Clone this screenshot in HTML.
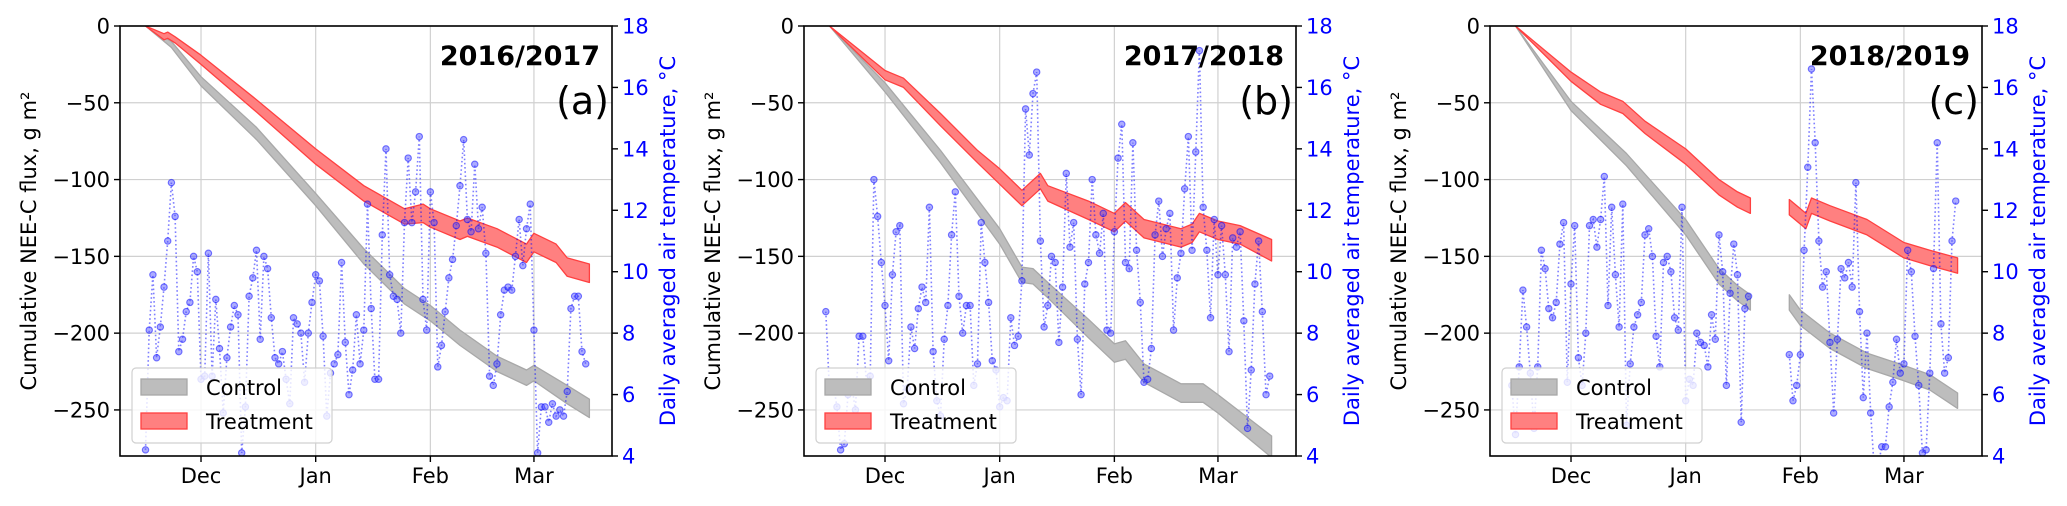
<!DOCTYPE html>
<html><head><meta charset="utf-8">
<style>
html,body{margin:0;padding:0;background:#fff;}
svg{display:block;font-family:"DejaVu Sans","Liberation Sans",sans-serif;}
</style></head>
<body>
<svg id="fig" width="2067" height="506" viewBox="0 0 2067 506" xmlns="http://www.w3.org/2000/svg"></svg>
<script>
// ---- shared axis data ----
const monthLabels = ['Dec','Jan','Feb','Mar'];
const monthDays = [0,31,62,90];
const fluxTicks = [0,-50,-100,-150,-200,-250];
const tempTicks = [4,6,8,10,12,14,16,18];
const seasonTitles = ['2016/2017','2017/2018','2018/2019'];
const panelTags = ['(a)','(b)','(c)'];

// ---- panel (a) 2016/2017 ----
const tempStartA = -15;
const tempA = [4.2,8.1,9.9,7.2,8.2,9.5,11.0,12.9,11.8,7.4,7.8,8.7,9.0,10.5,10.0,6.5,6.6,10.6,6.6,9.1,7.5,5.4,7.2,8.2,8.9,8.6,4.1,5.6,9.2,9.8,10.7,7.8,10.5,10.1,8.5,7.2,7.0,7.4,6.5,5.7,8.5,8.3,8.0,6.4,8.0,9.0,9.9,9.7,7.9,5.3,6.7,7.0,7.3,10.3,7.7,6.0,6.8,8.6,7.0,8.1,12.2,
 8.8,6.5,6.5,11.2,14.0,9.9,9.2,9.1,8.0,11.6,13.7,11.6,12.6,14.4,9.1,8.1,12.6,11.6,6.9,7.6,8.7,9.8,10.4,11.5,12.8,14.3,11.7,11.3,13.5,11.4,12.1,10.6,6.6,6.3,7.0,8.6,9.4,9.5,9.4,10.5,11.7,10.2,11.4,12.2,8.1,4.1,5.6,5.6,5.1,5.7,5.3,5.5,5.3,6.1,8.8,9.2,9.2,7.4,7.0];
const ctrlDaysA = [-15,-8,0,15,31,44,55,62,70,80,88,90,99,105];
const ctrlValsA = [0,-12,-36,-70,-113,-150,-176,-187,-203,-220,-229,-226,-240,-249];
const ctrlHwA   = [0,2,3,4,4,5,5,5,5,5,5,5,6,6];
const trtDaysA = [-15,-10,-9,-7,0,15,31,44,55,60,62,70,72,80,88,90,96,99,105];
const trtValsA = [0,-7,-6,-9,-22,-52,-85,-109,-124,-122,-125,-133,-131,-138,-148,-141,-148,-157,-161];
const trtHwA   = [0,2,2,2,3,4,5,5,5,6,6,6,6,6,6,6,6,6,6];

// ---- panel (b) 2017/2018 ----
const tempStartB = -16;
const tempB = [8.7,6.1,6.4,5.6,4.2,4.4,6.0,6.3,5.5,7.9,7.9,6.4,6.6,13.0,11.8,10.3,8.9,7.1,9.9,11.3,11.5,
 5.7,6.2,8.2,7.5,8.8,9.5,9.0,12.1,7.4,5.8,5.3,7.8,8.9,11.2,12.6,9.2,8.0,8.9,8.9,6.3,7.0,11.6,10.3,9.0,7.1,6.8,5.6,5.9,5.8,8.5,7.6,7.9,9.7,15.3,13.8,15.8,16.5,11.0,8.2,8.9,10.5,
 10.3,7.7,9.5,13.2,10.8,11.6,7.8,6.0,9.6,10.3,13.0,11.2,10.6,11.9,8.1,8.0,11.3,13.7,14.8,10.3,10.1,14.2,10.7,9.0,6.4,6.5,7.5,11.2,12.3,10.5,11.4,11.9,8.1,9.8,10.6,12.7,14.4,10.7,13.9,17.2,12.1,10.7,8.5,11.7,9.9,11.5,9.9,7.4,11.1,10.8,11.3,8.4,4.9,6.8,9.6,11.0,8.7,6.0,6.6];
const ctrlDaysB = [-15,0,15,31,37,40,44,55,62,65,70,80,86,90,104.5];
const ctrlValsB = [0,-40,-85,-137,-162,-163,-172,-197,-213,-211,-226,-239,-239,-246,-274];
const ctrlHwB   = [0,3,4,5,5,5,5,6,6,6,6,6,6,6,7];
const trtDaysB = [-15,0,5,15,25,31,37,42,44,55,62,65,70,80,83,85,90,96,104.5];
const trtValsB = [0,-32,-37,-61,-85,-98,-112,-101,-109,-120,-128,-121,-132,-138,-135,-128,-133,-136,-146];
const trtHwB   = [0,3,3,4,4,5,5,5,5,6,6,6,6,6,6,6,6,6,7];

// ---- panel (c) 2018/2019 (gap = null) ----
const tempStartC = -16;
const tempC = [6.3,4.7,6.9,9.4,8.2,6.7,4.9,6.9,10.7,10.1,8.8,8.5,9.0,10.9,11.6,6.4,9.6,11.5,7.2,6.3,8.0,11.5,11.7,10.8,11.7,13.1,8.9,12.1,9.9,8.2,12.2,5.0,7.0,8.2,8.6,9.0,11.2,11.4,10.5,7.9,6.9,10.3,10.5,10.0,8.5,8.1,12.1,5.8,6.5,6.3,8.0,7.7,7.6,6.9,8.6,7.8,11.2,10.0,6.3,9.3,10.9,9.9,
 5.1,8.8,9.2,
 null,null,null,null,null,null,null,null,null,null,
 7.3,5.8,6.3,7.3,10.7,13.4,16.6,14.2,11.0,9.5,10.0,7.7,5.4,7.8,10.1,9.8,10.3,9.5,12.9,8.7,5.9,8.0,5.4,3.5,3.7,4.3,4.3,5.6,6.4,7.8,6.7,7.0,10.7,10.0,7.9,6.3,4.1,4.2,6.7,10.1,14.2,8.3,6.7,7.2,11.0,12.3];
const ctrlDaysC = [-15,0,15,31,40,45,48.5,null,59,62,70,80,90,97,104.5];
const ctrlValsC = [0,-52,-87,-131,-163,-174,-180,null,-180,-190,-205,-218,-226,-232,-244];
const ctrlHwC   = [0,3,4,5,5,5,5,null,5,5,5,5,5,5,5];
const trtDaysC = [-15,0,8,14,20,31,40,45,48.5,null,59,62,63.5,65,70,80,90,97,104.5];
const trtValsC = [0,-33,-47,-53,-66,-85,-105,-113,-117,null,-118,-124,-127,-117,-122,-131,-146,-151,-156];
const trtHwC   = [0,3,4,4,4,5,5,5,5,null,5,5,5,5,5,5,5,5,5];

const panels = [
  {L:120, tStart:tempStartA, temp:tempA, cd:ctrlDaysA, cv:ctrlValsA, ch:ctrlHwA, td:trtDaysA, tv:trtValsA, th:trtHwA},
  {L:804, tStart:tempStartB, temp:tempB, cd:ctrlDaysB, cv:ctrlValsB, ch:ctrlHwB, td:trtDaysB, tv:trtValsB, th:trtHwB},
  {L:1490,tStart:tempStartC, temp:tempC, cd:ctrlDaysC, cv:ctrlValsC, ch:ctrlHwC, td:trtDaysC, tv:trtValsC, th:trtHwC}
];

const NS = 'http://www.w3.org/2000/svg';
const svg = document.getElementById('fig');
const TOP = 26, BOT = 456, W = 492;
const D0 = -21.9, D1 = 111.1;
function mk(tag, attrs, parent){
  const e = document.createElementNS(NS, tag);
  for (const k in attrs) e.setAttribute(k, attrs[k]);
  parent.appendChild(e);
  return e;
}

panels.forEach((p, i) => {
  const L = p.L, R = L + W;
  const xS = d => L + (d - D0) / (D1 - D0) * W;
  const yF = v => TOP + (0 - v) / 280 * (BOT - TOP);
  const yT = t => BOT - (t - 4) / 14 * (BOT - TOP);

  const g = mk('g', {}, svg);
  
  

  const clip = mk('clipPath', {id:'clip'+i}, g);
  mk('rect', {x:L, y:TOP, width:W, height:BOT-TOP}, clip);

  // grid
  fluxTicks.forEach(v => {
    const gl = mk('line', {x1:L, x2:R, y1:yF(v), y2:yF(v), stroke:'#d0d0d0', 'stroke-width':1.2}, g);
    
    
  });
  monthDays.forEach(d => {
    const gl = mk('line', {x1:xS(d), x2:xS(d), y1:TOP, y2:BOT, stroke:'#d0d0d0', 'stroke-width':1.2}, g);
    
    
  });

  // bands
  function band(days, vals, hws, fill, stroke, name){
    let segs = [[]];
    days.forEach((d, k) => {
      if (d === null) { segs.push([]); return; }
      segs[segs.length-1].push([d, vals[k], hws[k]]);
    });
    segs.forEach(seg => {
      if (seg.length < 2) return;
      const up = seg.map(s => xS(s[0]).toFixed(1)+','+yF(s[1]+s[2]).toFixed(1));
      const lo = seg.slice().reverse().map(s => xS(s[0]).toFixed(1)+','+yF(s[1]-s[2]).toFixed(1));
      const pg = mk('polygon', {points: up.concat(lo).join(' '), fill:fill, stroke:stroke, 'stroke-width':1.3, 'stroke-linejoin':'round', 'clip-path':'url(#clip'+i+')'}, g);
      
      
    });
  }
  band(p.cd, p.cv, p.ch, '#bdbdbd', '#a8a8a8', 'control-band');
  band(p.td, p.tv, p.th, '#ff8080', '#ff4040', 'treatment-band');

  // temperature line + markers
  let d = '', pen = false;
  p.temp.forEach((t, k) => {
    if (t === null) { pen = false; return; }
    const x = xS(p.tStart + k), y = yT(t);
    d += (pen ? 'L' : 'M') + x.toFixed(1) + ',' + y.toFixed(1);
    pen = true;
  });
  const tl = mk('path', {d:d, fill:'none', stroke:'rgba(0,0,255,0.5)', 'stroke-width':1.6, 'stroke-dasharray':'1.6,2.6', 'clip-path':'url(#clip'+i+')'}, g);
  
  
  p.temp.forEach((t, k) => {
    if (t === null) return;
    const c = mk('circle', {cx:xS(p.tStart + k), cy:yT(t), r:3.2, fill:'rgba(70,70,255,0.45)', stroke:'rgba(0,0,255,0.5)', 'stroke-width':1.1, 'clip-path':'url(#clip'+i+')'}, g);
    
    
  });

  // spines
  const fr = mk('rect', {x:L, y:TOP, width:W, height:BOT-TOP, fill:'none', stroke:'#000', 'stroke-width':1.6}, g);
  
  

  // left ticks
  fluxTicks.forEach(v => {
    mk('line', {x1:L-6, x2:L, y1:yF(v), y2:yF(v), stroke:'#000', 'stroke-width':1.4}, g);
    const tx = mk('text', {x:L-10, y:yF(v)+7.5, 'text-anchor':'end', 'font-size':21, fill:'#000'}, g);
    tx.textContent = v === 0 ? '0' : '\u2212' + Math.abs(v);
    
    
  });
  // right ticks
  tempTicks.forEach(t => {
    mk('line', {x1:R, x2:R+6, y1:yT(t), y2:yT(t), stroke:'#000', 'stroke-width':1.4}, g);
    const tx = mk('text', {x:R+10, y:yT(t)+7.5, 'font-size':21, fill:'#0000ff'}, g);
    tx.textContent = String(t);
    
    
  });
  // x ticks
  monthDays.forEach((md, k) => {
    mk('line', {x1:xS(md), x2:xS(md), y1:BOT, y2:BOT+6, stroke:'#000', 'stroke-width':1.4}, g);
    const tx = mk('text', {x:xS(md), y:483, 'text-anchor':'middle', 'font-size':21, fill:'#000'}, g);
    tx.textContent = monthLabels[k];
    
    
  });

  // axis titles
  const yl = mk('text', {x:0, y:0, transform:'translate('+(L-84)+','+241+') rotate(-90)', 'text-anchor':'middle', 'font-size':21, fill:'#000'}, g);
  yl.textContent = 'Cumulative NEE-C flux, g m\u00B2';
  
  
  const yr = mk('text', {x:0, y:0, transform:'translate('+(R+63)+','+241+') rotate(-90)', 'text-anchor':'middle', 'font-size':21, fill:'#0000ff'}, g);
  yr.textContent = 'Daily averaged air temperature, \u00B0C';
  
  

  // season title and tag
  const st = mk('text', {x:R-12, y:65, 'text-anchor':'end', 'font-size':27, 'font-weight':'bold', fill:'#000'}, g);
  st.textContent = seasonTitles[i];
  
  
  const pt = mk('text', {x:R-3, y:114, 'text-anchor':'end', 'font-size':38, fill:'#000'}, g);
  pt.textContent = panelTags[i];
  
  

  // legend
  const lg = mk('g', {}, g);
  
  
  mk('rect', {x:L+12, y:368, width:200, height:75, rx:4, fill:'rgba(255,255,255,0.8)', stroke:'#d0d0d0', 'stroke-width':1.2}, lg);
  const cp = mk('rect', {x:L+21, y:379, width:46, height:16, fill:'#bdbdbd', stroke:'#a8a8a8', 'stroke-width':1.3}, lg);
  
  
  const ct = mk('text', {x:L+86, y:395, 'font-size':21, fill:'#000'}, lg);
  ct.textContent = 'Control';
  
  
  const tp = mk('rect', {x:L+21, y:413, width:46, height:16, fill:'#ff8080', stroke:'#ff4040', 'stroke-width':1.3}, lg);
  
  
  const tt = mk('text', {x:L+86, y:429, 'font-size':21, fill:'#000'}, lg);
  tt.textContent = 'Treatment';
  
  
});
</script>
</body></html>
